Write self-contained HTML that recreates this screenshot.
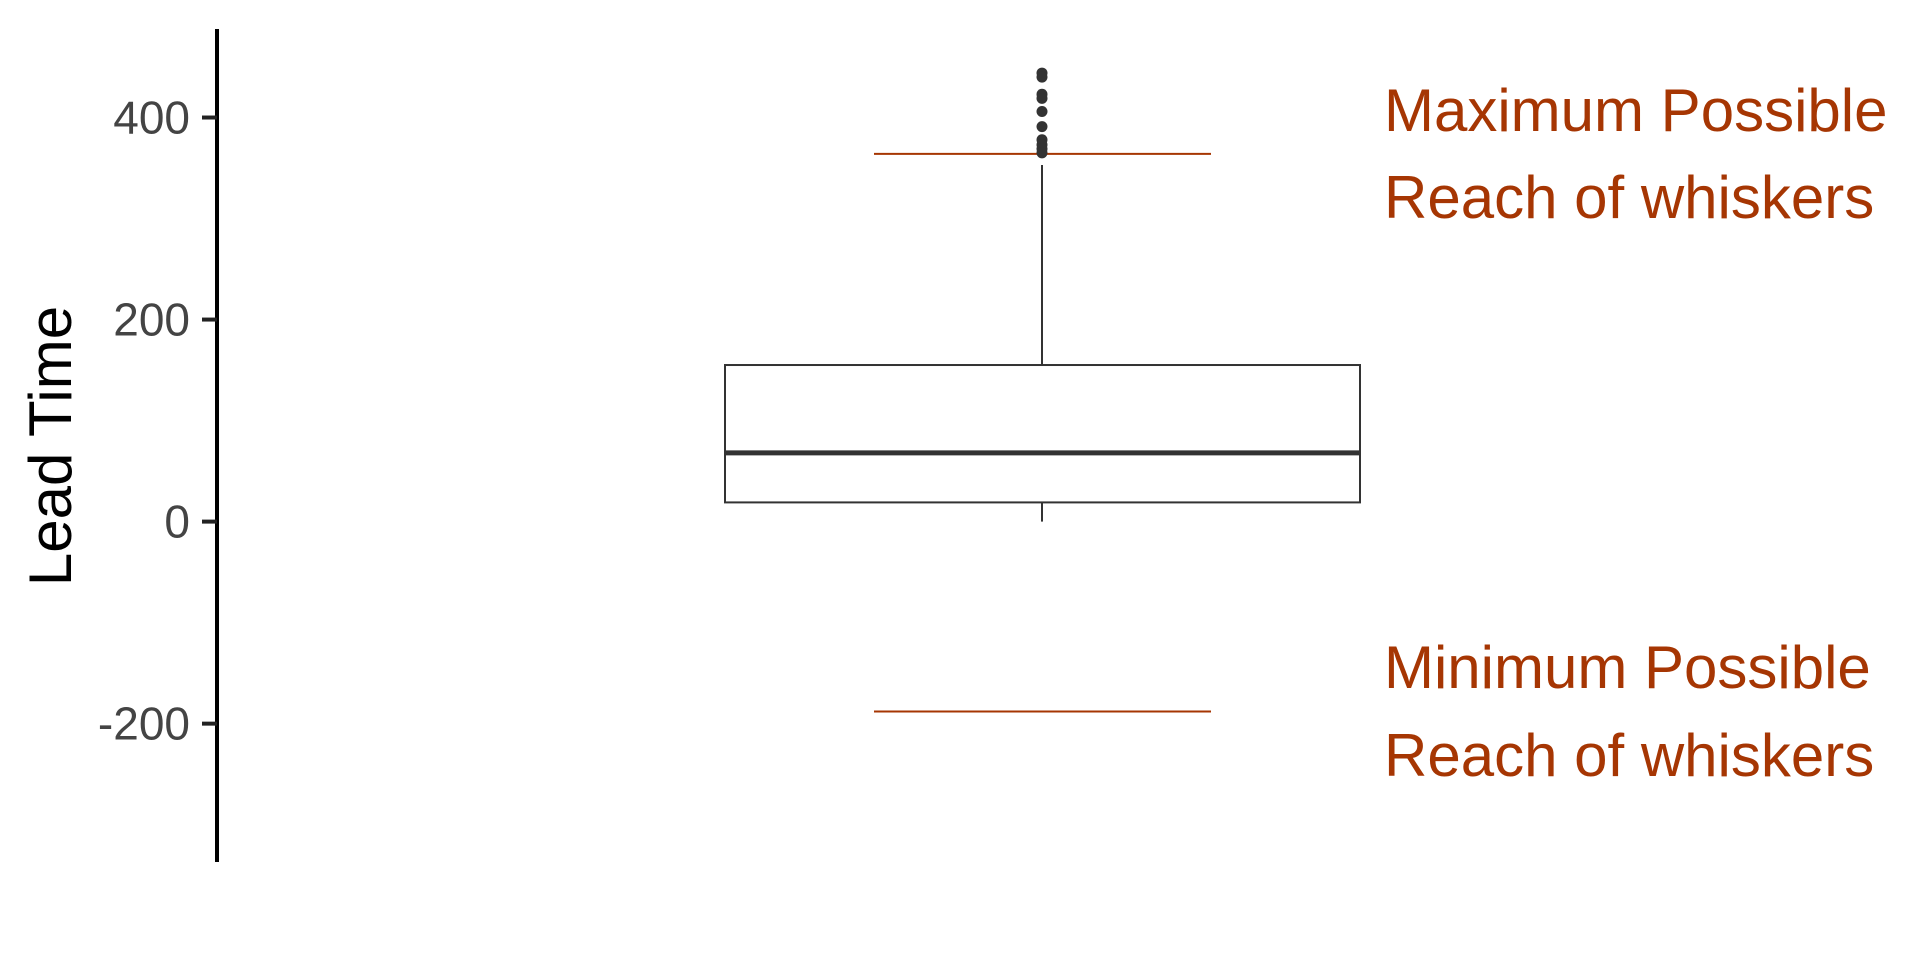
<!DOCTYPE html>
<html><head><meta charset="utf-8"><style>
html,body{margin:0;padding:0;background:#fff;}
svg{display:block;font-family:"Liberation Sans",sans-serif;}
</style></head><body>
<svg id="chart" width="1920" height="960">
<line x1="217" y1="29" x2="217" y2="862" stroke="#000" stroke-width="4"/>
<g id="ticks"></g>
<text x="0" y="0" transform="translate(71,446) rotate(-90)" text-anchor="middle" font-size="60" fill="#000">Lead Time</text>
<g id="marks"></g>
<text x="1384" y="131" font-size="60" fill="#a63603">Maximum Possible</text>
<text x="1384" y="218" font-size="60" fill="#a63603">Reach of whiskers</text>
<text x="1384" y="688" font-size="60" fill="#a63603">Minimum Possible</text>
<text x="1384" y="776" font-size="60" fill="#a63603">Reach of whiskers</text>
</svg>
<script>
const tickValues = [-200, 0, 200, 400];
const boxStats = [0, 19, 68, 155, 353]; // min whisker, q1, median, q3, max whisker
const outliers = [444, 440, 423, 419, 406, 391, 378, 373, 369, 365];
const reachLimits = [-188, 364];

const NS = "http://www.w3.org/2000/svg";
function y(v){ return 521.6 - v * 1.0102; }
const cx = 1042, bx0 = 725, bx1 = 1360, rx0 = 874, rx1 = 1211;
function mk(tag, attrs, parent){
  const e = document.createElementNS(NS, tag);
  for (const k in attrs) e.setAttribute(k, attrs[k]);
  parent.appendChild(e);
  return e;
}
const tg = document.getElementById('ticks');
tickValues.forEach(v => {
  const l = mk('line', {x1:202, x2:217, y1:y(v), y2:y(v), stroke:'#222', 'stroke-width':4}, tg);
  
  
  const t = mk('text', {x:190, y:y(v)+16, 'text-anchor':'end', 'font-size':46, fill:'#444'}, tg);
  t.textContent = v;
  
  
});
const mg = document.getElementById('marks');
reachLimits.forEach(v => {
  const l = mk('line', {x1:rx0, x2:rx1, y1:y(v), y2:y(v), stroke:'#a63603', 'stroke-width':2}, mg);
  
  
});
const wl = mk('line', {x1:cx, x2:cx, y1:y(boxStats[0]), y2:y(boxStats[1]), stroke:'#333', 'stroke-width':2}, mg);


const wu = mk('line', {x1:cx, x2:cx, y1:y(boxStats[3]), y2:y(boxStats[4]), stroke:'#333', 'stroke-width':2}, mg);


const box = mk('rect', {x:bx0, y:y(boxStats[3]), width:bx1-bx0, height:y(boxStats[1])-y(boxStats[3]), fill:'#fff', stroke:'#333', 'stroke-width':2}, mg);


const med = mk('line', {x1:bx0, x2:bx1, y1:y(boxStats[2]), y2:y(boxStats[2]), stroke:'#333', 'stroke-width':5}, mg);


outliers.forEach(v => {
  const c = mk('circle', {cx:cx, cy:y(v), r:5.5, fill:'#333'}, mg);
  
  
});
</script>
</body></html>
